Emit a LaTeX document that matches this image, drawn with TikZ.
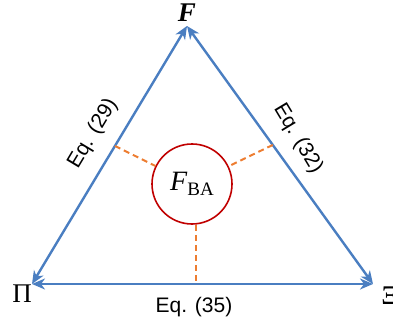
\documentclass[tikz,border=0pt]{standalone}
\usepackage{fontspec}
\setmainfont{Liberation Serif}
\newfontfamily\eqfont{Liberation Sans}
\usetikzlibrary{arrows.meta,calc}
\definecolor{sideblue}{RGB}{74,126,193}
\definecolor{circred}{RGB}{192,0,0}
\definecolor{dashorange}{RGB}{237,125,49}
\tikzset{
  side/.style={draw=sideblue,line width=2.4pt,{Stealth[length=13pt,width=11pt,inset=4pt]}-{Stealth[length=13pt,width=11pt,inset=4pt]}},
  link/.style={draw=dashorange,line width=2pt,dash pattern=on 6pt off 4pt},
  eqlabel/.style={font=\eqfont\fontsize{21}{21}\selectfont,inner sep=0pt},
  vlabel/.style={font=\fontsize{27}{27}\selectfont,inner sep=0pt},
}
\begin{document}
\begin{tikzpicture}[x=1pt,y=-1pt]
\useasboundingbox (0,0) rectangle (393,326);
\coordinate (A) at (187,26);
\coordinate (B) at (32,284);
\coordinate (C) at (373,284);
\node[vlabel] (F) at (187,13) {\textbf{\textit{F}}};
\node[vlabel] (Pi) at (22,294) {Π};
\node[vlabel] (Xi) at (390,296) {Ξ};
\node[draw=circred,line width=1.6pt,circle,minimum size=80pt,inner sep=0pt] (O) at (192,184)
  {\fontsize{28}{28}\selectfont\textit{F}\raisebox{-0.35ex}{\fontsize{19}{19}\selectfont BA}};
\draw[side] (B) -- (A);
\draw[side] (C) -- (A);
\draw[side] (B) -- (C);
\coordinate (L) at ($(B)!0.535!(A)$);
\coordinate (R) at ($(C)!0.539!(A)$);
\coordinate (D) at (196,284);
\draw[link] (L) -- (O);
\draw[link] (R) -- (O);
\draw[link] (O.south -| D) -- (D);
\node[eqlabel,rotate=59] (e29) at (93,134) {Eq. (29)};
\node[eqlabel,rotate=-59] (e32) at (298,139) {Eq. (32)};
\node[eqlabel] (e35) at (194,307) {Eq. (35)};
\end{tikzpicture}
\end{document}
